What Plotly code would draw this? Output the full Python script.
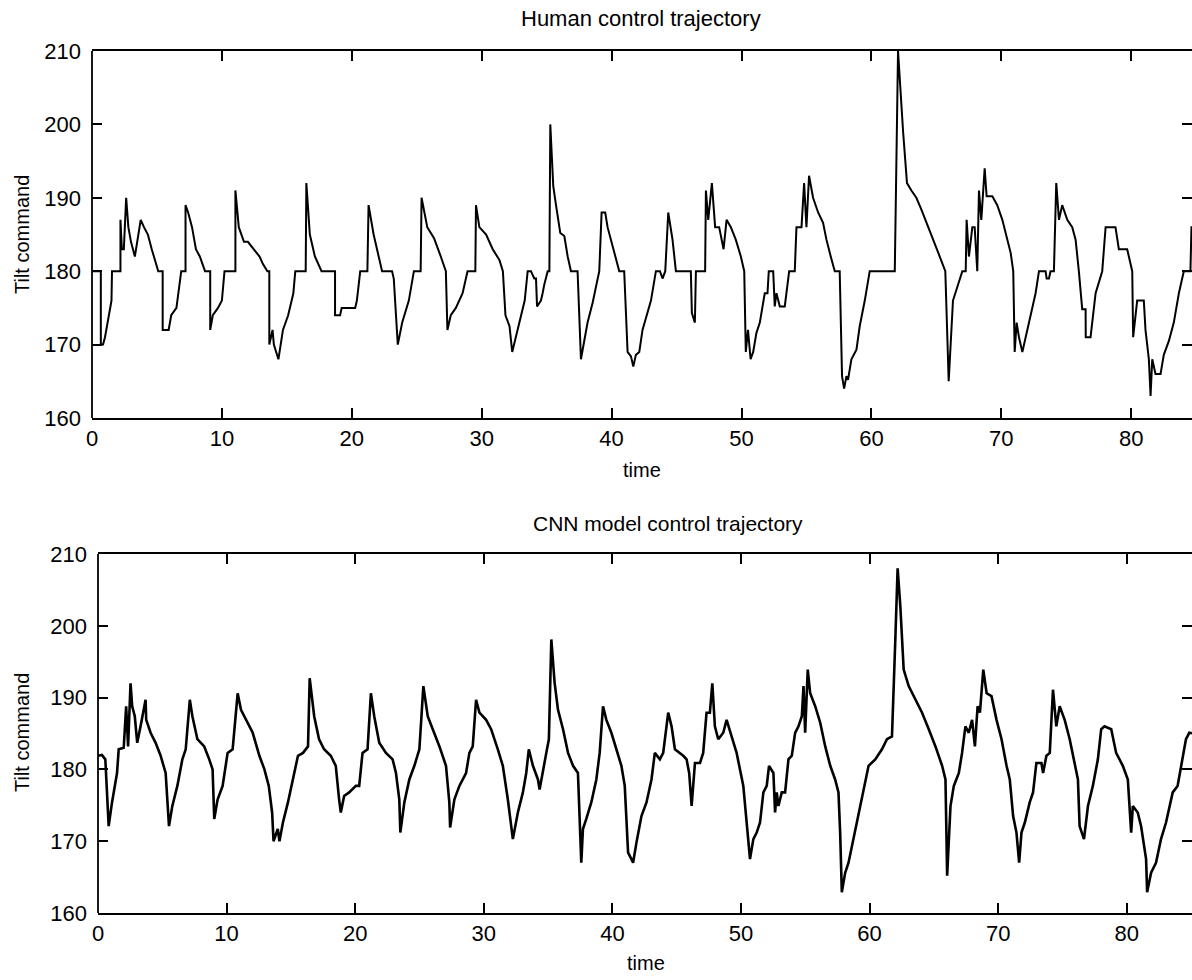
import plotly.graph_objects as go

# ---------------- data ----------------
human_t = [0, 0.68, 0.68, 0.85, 1.0, 1.5, 1.54, 2.19, 2.19, 2.3, 2.45, 2.63, 2.8, 3.0, 3.3, 3.5, 3.75, 4.0, 4.3, 4.6, 4.9, 5.1,
           5.44, 5.44, 5.9, 6.1, 6.5, 6.7, 6.87, 7.2, 7.2, 7.4, 7.7, 8.0, 8.3, 8.7, 9.1, 9.1, 9.3, 9.7, 10.0, 10.2,
           11.04, 11.04, 11.3, 11.7, 12.0, 12.9, 13.15, 13.5, 13.65, 13.65, 13.9, 14.0, 14.35, 14.7, 15.1, 15.5, 15.65,
           16.45, 16.5, 16.77, 17.16, 17.67, 18.71, 18.71, 19.1, 19.22, 20.26, 20.39, 20.65, 21.2, 21.29, 21.68, 22.07,
           22.33, 23.1, 23.23, 23.54, 23.88, 24.39, 24.78, 25.3, 25.37, 25.81, 26.33, 26.85, 27.24, 27.36, 27.62, 28.01,
           28.53, 28.91, 29.51, 29.56, 29.82, 30.34, 30.85, 31.37, 31.63, 31.83, 32.14, 32.35, 32.92, 33.31, 33.54,
           33.79, 34.05, 34.18, 34.26, 34.56, 34.69, 34.82, 35.08, 35.21, 35.28, 35.51, 35.72, 36.05, 36.36, 36.62,
           36.87, 37.38, 37.64, 37.9, 38.15, 38.54, 38.79, 39.05, 39.23, 39.51, 39.69, 39.95, 40.28, 40.59, 40.97,
           41.23, 41.49, 41.67, 41.87, 42.13, 42.38, 42.69, 43.03, 43.41, 43.72, 43.92, 44.13, 44.36, 44.69, 44.95,
           46.1, 46.18, 46.41, 46.49, 47.2, 47.26, 47.44, 47.72, 47.97, 48.28, 48.62, 48.85, 49.18, 49.56, 49.95,
           50.21, 50.33, 50.5, 50.7, 50.9, 51.15, 51.41, 51.79, 52.0, 52.1, 52.44, 52.56, 52.69, 52.95, 53.33, 53.46,
           53.67, 54.1, 54.23, 54.62, 54.69, 54.82, 55.0, 55.2, 55.51, 55.9, 56.28, 56.54, 56.87, 57.18, 57.56, 57.74,
           57.9, 58.08, 58.2, 58.46, 58.85, 59.1, 59.49, 59.69, 59.87, 61.8, 62.05, 62.44, 62.74, 63.08, 63.46, 63.85,
           64.23, 64.74, 65.26, 65.69, 65.95, 66.28, 66.67, 67.0, 67.26, 67.33, 67.51, 67.77, 67.95, 68.15, 68.28,
           68.46, 68.72, 68.87, 69.31, 69.69, 70.08, 70.33, 70.72, 70.92, 71.03, 71.18, 71.36, 71.62, 72.0, 72.26,
           72.64, 72.9, 73.41, 73.49, 73.67, 73.79, 74.05, 74.23, 74.44, 74.69, 75.08, 75.46, 75.72, 75.97, 76.23,
           76.49, 76.5, 76.87, 77.26, 77.77, 78.03, 78.79, 79.05, 79.69, 80.08, 80.15, 80.46, 80.97, 81.1, 81.36,
           81.49, 81.62, 81.87, 82.26, 82.51, 82.9, 83.28, 83.67, 84.05, 84.56, 84.64, 85.0]
human_v = [180, 180, 170, 170, 171, 176, 180, 180, 187, 183, 183, 190, 186, 184, 182, 184, 187, 186, 185, 183, 181, 180,
           180, 172, 172, 174, 175, 178, 180, 180, 189, 188, 186, 183, 182, 180, 180, 172, 174, 175, 176, 180,
           180, 191, 186, 184, 184, 182, 181, 180, 180, 170, 172, 170, 168, 172, 174, 177, 180,
           180, 192, 185, 182, 180, 180, 174, 174, 175, 175, 176, 180, 180, 189, 185, 182,
           180, 180, 179, 170, 173, 176, 180, 180, 190, 186, 184.5, 182, 180, 172, 174, 175,
           177, 180, 180, 189, 186, 185, 183, 181.5, 180, 174, 172.5, 169, 173, 176, 180,
           180, 179, 179, 175.2, 176, 177, 178.2, 180, 180, 200, 191.6, 189, 185.2, 184.8, 182,
           180, 180, 168, 170.7, 173, 175.7, 178, 180, 188, 188, 186, 184.3, 182, 180, 180,
           169, 168.4, 167, 168.6, 169, 172, 174, 176, 180, 180, 179, 180, 188, 184.3, 180,
           180, 174.3, 173, 180, 180, 191, 187, 192, 186, 186, 183, 187, 186, 184.3, 182,
           180, 169, 172, 168, 169, 171.6, 173, 177, 177, 180, 180, 175.2, 177, 175.2, 175.2, 177,
           180, 180, 186, 186, 188, 192, 186, 193, 190, 188, 186.6, 184.3, 182, 180, 180, 165.7,
           164, 165.7, 165.2, 168, 169.3, 172.5, 176, 178, 180, 180, 210, 199, 192, 191, 190, 188.4,
           186.6, 184.3, 182, 180, 165, 176, 178, 180, 180, 187, 182, 186, 186, 180, 191,
           187, 194, 190.2, 190.2, 189, 187, 185.2, 182.5, 180, 169, 173, 171, 169, 172, 174,
           177, 180, 180, 179, 179, 180, 180, 192, 187, 189, 187, 186, 184.3, 180, 174.8,
           174.8, 171, 171, 177, 180, 186, 186, 183, 183, 180, 171, 176, 176, 172, 168,
           163, 168, 166, 166, 168.6, 170.5, 173, 177, 180, 180, 186, 186]

cnn_t = [0, 0.3, 0.57, 0.83, 1.09, 1.48, 1.61, 2.0, 2.19, 2.34, 2.53, 2.66, 2.86, 3.05, 3.31, 3.7, 3.75, 4.09, 4.48,
         4.87, 5.26, 5.52, 5.78, 6.17, 6.56, 6.82, 7.14, 7.34, 7.73, 8.26, 8.65, 8.91, 9.04, 9.3, 9.69, 10.08, 10.47,
         10.86, 11.12, 11.51, 12.03, 12.55, 12.94, 13.28, 13.54, 13.65, 13.98, 14.11, 14.38, 14.77, 15.16, 15.55,
         15.94, 16.33, 16.46, 16.81, 17.19, 17.58, 18.1, 18.49, 18.75, 18.88, 19.14, 19.53, 20.05, 20.31, 20.57,
         20.96, 21.22, 21.48, 21.87, 22.39, 22.91, 23.17, 23.43, 23.51, 23.82, 24.21, 24.6, 24.99, 25.3, 25.64,
         26.03, 26.55, 27.06, 27.32, 27.38, 27.71, 28.1, 28.62, 28.88, 29.14, 29.4, 29.66, 30.18, 30.57, 31.09,
         31.48, 31.87, 32.13, 32.26, 32.65, 33.04, 33.3, 33.5, 33.82, 34.21, 34.34, 34.6, 34.86, 35.06, 35.25,
         35.51, 35.77, 36.16, 36.55, 36.94, 37.32, 37.58, 37.71, 37.97, 38.36, 38.75, 39.01, 39.27, 39.53, 39.92,
         40.31, 40.7, 40.96, 41.22, 41.48, 41.61, 41.87, 42.26, 42.65, 43.04, 43.3, 43.69, 43.95, 44.34, 44.6,
         44.86, 45.51, 45.77, 45.97, 46.16, 46.42, 46.81, 47.06, 47.32, 47.58, 47.77, 47.97, 48.23, 48.62, 48.88,
         49.27, 49.66, 50.18, 50.44, 50.57, 50.7, 50.96, 51.22, 51.48, 51.74, 52.0, 52.18, 52.52, 52.65, 52.78,
         52.91, 53.17, 53.43, 53.69, 53.95, 54.21, 54.47, 54.73, 54.86, 54.99, 55.19, 55.38, 55.77, 56.16, 56.55,
         56.94, 57.32, 57.58, 57.71, 57.84, 58.1, 58.36, 58.75, 59.14, 59.53, 59.92, 60.44, 60.96, 61.35, 61.74,
         62.0, 62.18, 62.39, 62.65, 63.04, 63.56, 64.08, 64.6, 65.12, 65.64, 65.9, 66.03, 66.29, 66.55, 66.94,
         67.19, 67.45, 67.71, 67.97, 68.19, 68.4, 68.58, 68.84, 69.1, 69.48, 69.87, 70.26, 70.65, 70.9, 71.16,
         71.42, 71.63, 71.81, 72.07, 72.45, 72.71, 72.97, 73.36, 73.49, 73.75, 74.01, 74.26, 74.52, 74.78, 75.17,
         75.56, 75.81, 76.2, 76.33, 76.67, 76.98, 77.36, 77.75, 78.01, 78.27, 78.79, 79.17, 79.69, 80.08, 80.34,
         80.47, 80.85, 81.11, 81.5, 81.58, 81.89, 82.27, 82.66, 83.05, 83.57, 83.95, 84.21, 84.6, 84.86, 85.2]
cnn_v = [181.9, 182, 181.4, 172.1, 175.4, 179.5, 182.8, 183, 188.8, 183.2, 192, 188.8, 187.4, 183.7, 186, 189.7, 186.9,
         185.1, 183.7, 181.9, 179.5, 172.1, 174.9, 177.7, 181.4, 182.8, 189.7, 187.4, 184.2, 183.2, 181.4, 180,
         173.1, 175.8, 177.7, 182.3, 182.8, 190.6, 188.3, 186.9, 185.1, 181.9, 180, 177.7, 174, 170, 171.7, 170,
         172.6, 175.4, 178.6, 181.9, 182.3, 183.2, 192.7, 187.4, 184.2, 182.8, 181.9, 180.5, 175.8, 174, 176.3,
         176.8, 177.7, 177.7, 182.3, 182.8, 190.6, 187.4, 183.7, 182.3, 181.4, 179.5, 175.8, 171.2, 175.4, 178.6,
         180.5, 182.8, 191.6, 187.4, 185.6, 183.2, 180.5, 175.4, 171.9, 175.8, 177.7, 179.5, 182.3, 183.2, 189.7,
         187.9, 186.9, 185.6, 182.8, 180.5, 175.8, 172.1, 170.3, 174, 176.8, 179.5, 182.8, 180.5, 178.6, 177.2,
         179.5, 182.3, 184.2, 198.1, 192, 188.3, 185.6, 182.3, 180.5, 179.5, 167, 171.7, 173.1, 175.4, 178.6,
         182.3, 188.8, 186.9, 185.1, 182.8, 180.5, 177.7, 168.4, 167.5, 167, 169.8, 173.5, 175.4, 178.6, 182.3,
         181.4, 182.3, 187.9, 186, 182.8, 181.9, 181.4, 179.5, 174.9, 180.9, 180.9, 182.3, 187.9, 187.9, 192, 186,
         184.2, 185.1, 186.9, 184.6, 182.3, 177.7, 173.1, 170.3, 167.5, 170.3, 171.2, 172.6, 176.8, 177.7, 180.5,
         179.5, 174, 176.8, 174.9, 176.8, 176.8, 181.4, 181.9, 185.1, 186, 187.4, 191.6, 185.1, 193.9, 190.6, 188.8,
         186.5, 183.2, 180.5, 178.6, 176.8, 171.2, 162.9, 165.6, 167, 170.3, 173.5, 176.8, 180.5, 181.4, 182.8,
         184.2, 184.6, 198.1, 208, 202.7, 193.9, 191.6, 189.7, 187.9, 185.6, 183.2, 180.5, 178.6, 165.2, 174.9,
         177.7, 179.5, 182.3, 186, 185.1, 186.9, 183.2, 188.8, 187.9, 193.9, 190.6, 190.2, 186.9, 184.2, 180.5,
         178.6, 173.5, 171.2, 167, 171.2, 172.6, 175.4, 176.8, 180.9, 180.9, 179.5, 181.9, 182.3, 191.1, 186,
         188.8, 186.9, 184.2, 181.9, 178.6, 172.1, 170.3, 174.9, 177.7, 181.4, 185.6, 186, 185.6, 182.3, 180.5,
         178.6, 171.2, 174.9, 174, 172.1, 167.5, 162.9, 165.6, 167, 170.3, 172.6, 176.8, 177.7, 180.5, 184.2,
         185.1, 185]

x_ticks = [0, 10, 20, 30, 40, 50, 60, 70, 80]
y_ticks = [160, 170, 180, 190, 200, 210]
titles = ["Human control trajectory", "CNN model control trajectory"]
x_label = "time"
y_label = "Tilt command"

# ---------------- figure ----------------
W, H = 1192, 980
FONT = "Liberation Sans, Arial, Helvetica, sans-serif"
fig = go.Figure()

fig.add_trace(go.Scatter(x=human_t, y=human_v, mode="lines", line=dict(color="black", width=2),
                         xaxis="x", yaxis="y", showlegend=False, hoverinfo="skip"))
fig.add_trace(go.Scatter(x=cnn_t, y=cnn_v, mode="lines", line=dict(color="black", width=2.6),
                         xaxis="x2", yaxis="y2", showlegend=False, hoverinfo="skip"))

def xa(domain, rng, anchor):
    return dict(domain=domain, range=rng, anchor=anchor, tickvals=x_ticks, ticks="inside", ticklen=10,
                tickwidth=1.5, tickcolor="black", showline=True, linecolor="black", linewidth=1.8,
                mirror="ticks", showgrid=False, zeroline=False, automargin=False,
                tickfont=dict(family=FONT, size=22, color="black"))

def ya(domain, anchor):
    return dict(domain=domain, range=[160, 210], anchor=anchor, tickvals=y_ticks, ticks="inside", ticklen=10,
                tickwidth=1.5, tickcolor="black", showline=False, mirror="ticks", showgrid=False,
                zeroline=False, automargin=False, ticklabelstandoff=10,
                tickfont=dict(family=FONT, size=22, color="black"))

top_dom_y = [1 - 418 / H, 1 - 51 / H]
bot_dom_y = [1 - 913 / H, 1 - 554 / H]

fig.update_layout(
    width=W, height=H,
    margin=dict(l=0, r=0, t=0, b=0, pad=0, autoexpand=False),
    paper_bgcolor="white", plot_bgcolor="white",
    xaxis=xa([92 / W, 1.0], [0, (W - 92) / 12.99], "y"),
    yaxis=ya(top_dom_y, "x"),
    xaxis2=xa([98 / W, 1.0], [0, (W - 98) / 12.86], "y2"),
    yaxis2=ya(bot_dom_y, "x2"),
)

# left spines (right spine lies beyond the visible page in the reference)
for xr, yr in (("x domain", "y domain"), ("x2 domain", "y2 domain")):
    fig.add_shape(type="line", xref=xr, yref=yr, x0=0, x1=0, y0=0, y1=1,
                  line=dict(color="black", width=1.8))

annotations = [
    dict(text=titles[0], x=641 / W, y=1 - 18 / H, size=22),
    dict(text=titles[1], x=668 / W, y=1 - 523 / H, size=21),
    dict(text=x_label, x=642 / W, y=1 - 470 / H, size=20),
    dict(text=x_label, x=646 / W, y=1 - 963 / H, size=20),
]
for a in annotations:
    fig.add_annotation(xref="paper", yref="paper", showarrow=False, xanchor="center", yanchor="middle",
                       text=a["text"], x=a["x"], y=a["y"],
                       font=dict(family=FONT, size=a["size"], color="black"))
for yc in (235, 733):
    fig.add_annotation(text=y_label, xref="paper", yref="paper", x=22 / W, y=1 - yc / H, showarrow=False,
                       textangle=-90, xanchor="center", yanchor="middle",
                       font=dict(family=FONT, size=20, color="black"))

fig.write_html("out.html")
